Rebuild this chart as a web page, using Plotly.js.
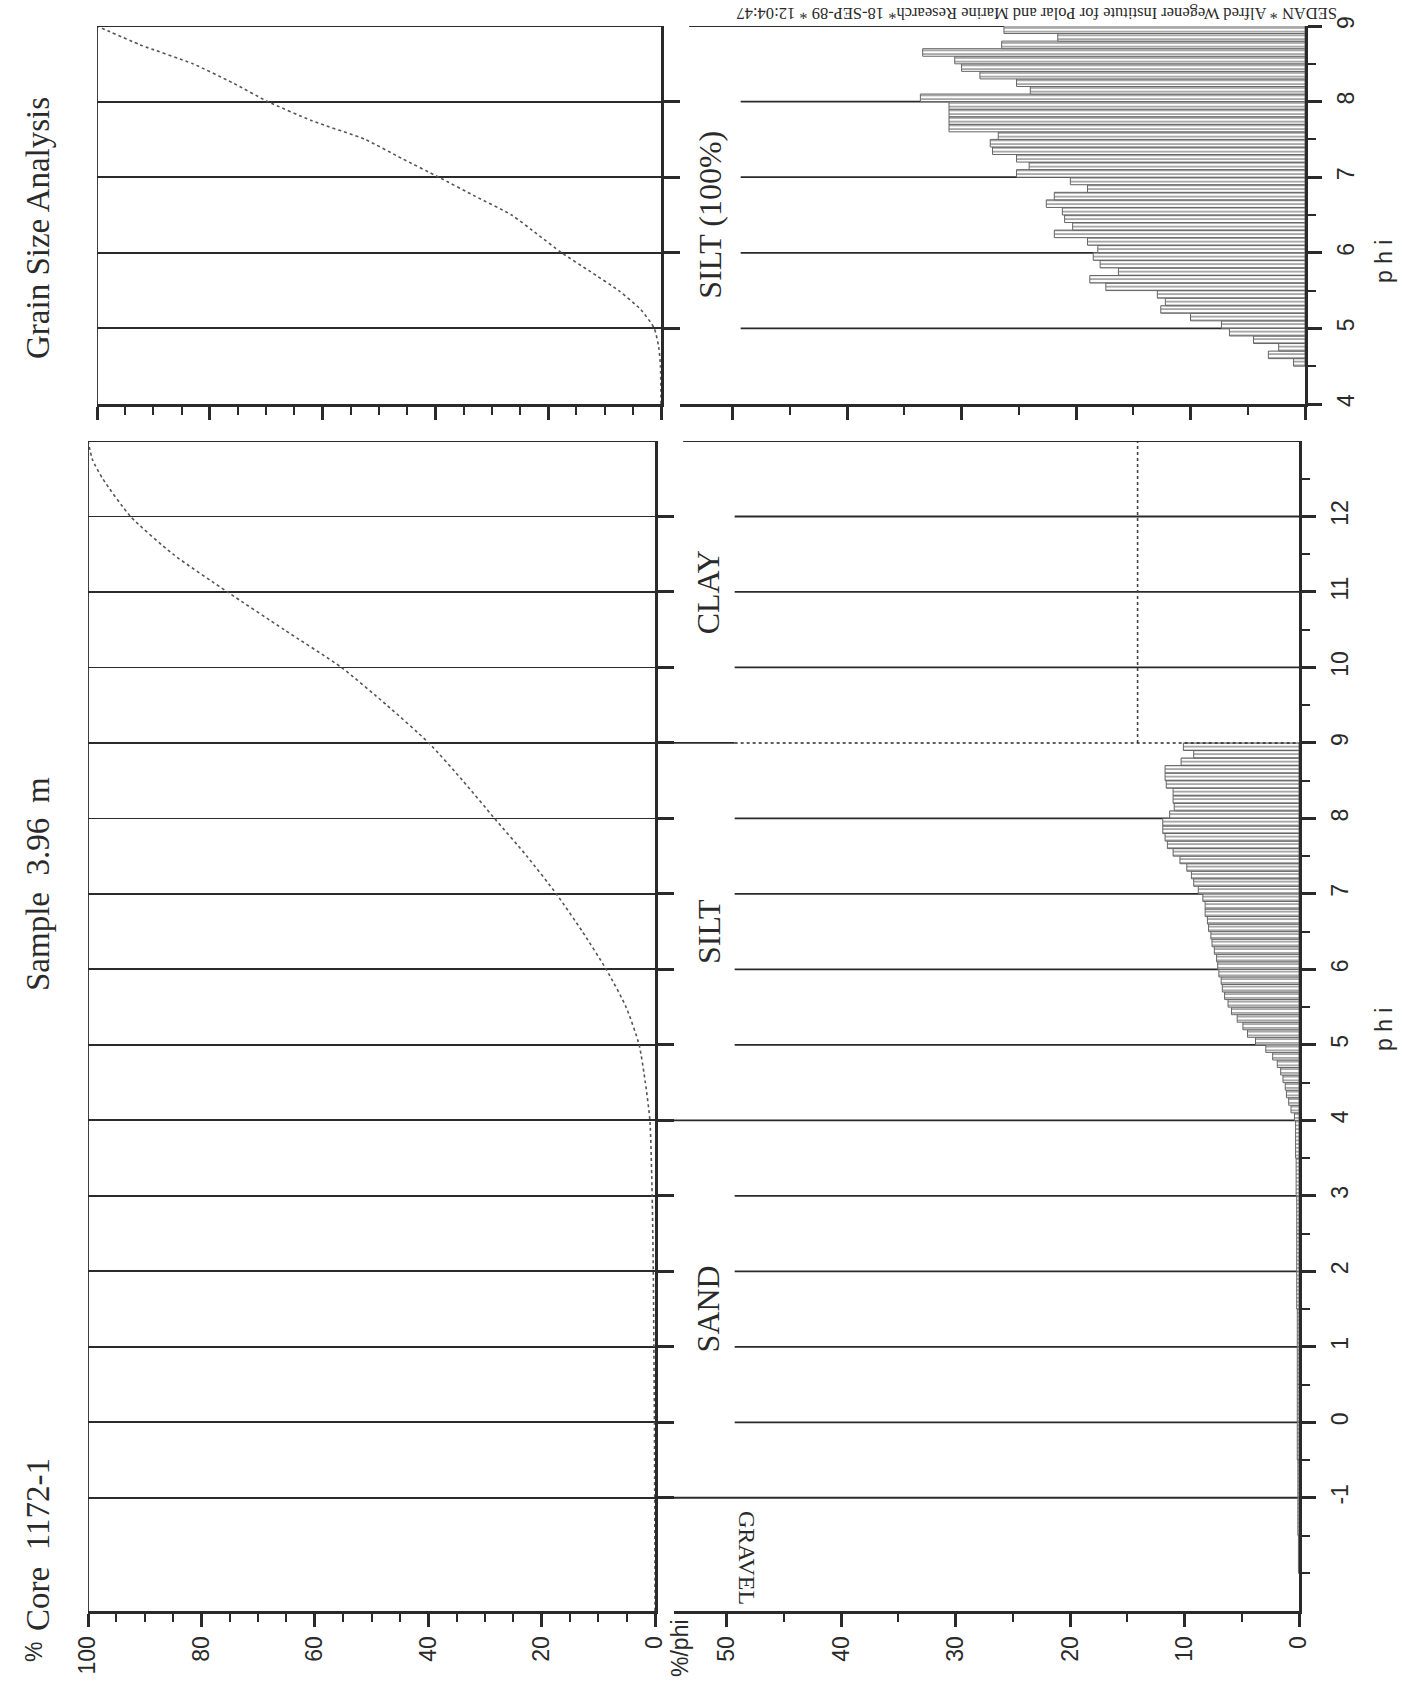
<!DOCTYPE html>
<html>
<head>
<meta charset="utf-8">
<script src="https://cdn.plot.ly/plotly-3.0.1.min.js"></script>
<style>
html,body{margin:0;padding:0;background:#fff;}
#chart{width:1411px;height:1683px;}
</style>
</head>
<body>
<div id="chart"></div>
<script>
// ---------------- data ----------------
// cumulative curve, whole sample (phi vs cumulative %)
const cumPhi = [-2.5, -2, -1, 0, 1, 2, 3, 4, 4.5, 5, 5.5, 6, 6.5, 7, 7.5, 8, 8.5, 9, 9.5, 10, 10.5, 11, 11.5, 12, 12.5, 12.75, 13];
const cumPct = [0, 0, 0.05, 0.1, 0.2, 0.3, 0.5, 0.9, 1.7, 2.8, 5.1, 8.6, 12.8, 17.4, 22.6, 28.3, 33.9, 39.9, 47.3, 55.3, 65.4, 75.4, 85.0, 92.5, 97.4, 99.2, 100];

// frequency (%/phi), sand fraction, 0.5 phi classes
const sandPhi = [-1.75, -1.25, -0.75, -0.25, 0.25, 0.75, 1.25, 1.75, 2.25, 2.75, 3.25, 3.75];
const sandVal = [0.05, 0.1, 0.1, 0.15, 0.15, 0.15, 0.15, 0.2, 0.2, 0.2, 0.25, 0.3];
const sandWidth = 0.5;

// frequency (%/phi), silt fraction, 0.1 phi classes (centres)
const siltPhi = [4.05, 4.15, 4.25, 4.35, 4.45, 4.55, 4.65, 4.75, 4.85, 4.95,
                 5.05, 5.15, 5.25, 5.35, 5.45, 5.55, 5.65, 5.75, 5.85, 5.95,
                 6.05, 6.15, 6.25, 6.35, 6.45, 6.55, 6.65, 6.75, 6.85, 6.95,
                 7.05, 7.15, 7.25, 7.35, 7.45, 7.55, 7.65, 7.75, 7.85, 7.95,
                 8.05, 8.15, 8.25, 8.35, 8.45, 8.55, 8.65, 8.75, 8.85, 8.95];
const siltVal = [0.4, 0.7, 0.9, 1.1, 1.2, 1.4, 1.6, 1.9, 2.3, 2.9,
                 3.8, 4.5, 4.9, 5.4, 5.9, 6.2, 6.5, 6.7, 6.8, 7.0,
                 7.1, 7.2, 7.4, 7.6, 7.7, 7.9, 8.0, 8.2, 8.2, 8.4,
                 8.8, 9.2, 9.4, 9.8, 10.4, 11.0, 11.5, 11.7, 11.9, 11.9,
                 11.3, 10.9, 11.0, 11.0, 11.6, 11.7, 11.7, 10.3, 9.2, 10.1];
const siltWidth = 0.1;

// clay: one class from 9 to 13 phi
const clayPhi = [9, 13];
const clayVal = 14.1;

// SILT (100%) panel
const s100Phi = [4.55, 4.65, 4.75, 4.85, 4.95,
                 5.05, 5.15, 5.25, 5.35, 5.45, 5.55, 5.65, 5.75, 5.85, 5.95,
                 6.05, 6.15, 6.25, 6.35, 6.45, 6.55, 6.65, 6.75, 6.85, 6.95,
                 7.05, 7.15, 7.25, 7.35, 7.45, 7.55, 7.65, 7.75, 7.85, 7.95,
                 8.05, 8.15, 8.25, 8.35, 8.45, 8.55, 8.65, 8.75, 8.85, 8.95];
const s100Val = [1.0, 3.2, 2.3, 4.5, 6.6,
                 7.3, 10.0, 12.6, 12.2, 12.9, 17.4, 18.8, 16.3, 17.9, 18.5,
                 18.1, 19.0, 21.9, 20.3, 21.0, 21.2, 22.6, 21.9, 19.0, 20.5,
                 25.2, 24.1, 25.2, 27.3, 27.5, 26.8, 31.1, 31.1, 31.1, 31.1,
                 33.6, 24.0, 25.2, 28.4, 30.0, 30.6, 33.4, 26.5, 21.6, 26.3];
const s100CumPhi = [4, 4.5, 4.75, 5, 5.25, 5.5, 5.75, 6, 6.25, 6.5, 6.75, 7, 7.25, 7.5, 7.75, 8, 8.25, 8.5, 8.75, 9];
const s100CumPct = [0, 0.1, 0.4, 1.2, 3.6, 7.5, 12.5, 17.6, 22.0, 26.5, 33.0, 39.4, 46.0, 52.5, 62.0, 69.7, 76.0, 83.0, 92.3, 100];

// ticks and labels
const phiTicks = [-1, 0, 1, 2, 3, 4, 5, 6, 7, 8, 9, 10, 11, 12];
const phiMinor = [-2, -1.5, -0.5, 0.5, 1.5, 2.5, 3.5, 4.5, 5.5, 6.5, 7.5, 8.5, 9.5, 10.5, 11.5, 12.5];
const s100PhiTicks = [4, 5, 6, 7, 8, 9];
const s100PhiMinor = [4.5, 5.5, 6.5, 7.5, 8.5];
const s100GridPhi = [5, 6, 7, 8];
const pctTicks = [0, 20, 40, 60, 80, 100];
const pctMinor = [5, 10, 15, 25, 30, 35, 45, 50, 55, 65, 70, 75, 85, 90, 95];
const freqTicks = [0, 10, 20, 30, 40, 50];
const freqMinor = [5, 15, 25, 35, 45];
const classNames = ['GRAVEL', 'SAND', 'SILT', 'CLAY'];
const classPhi = [-1.8, 1.5, 6.5, 11];
const classBounds = [-1, 4, 9];

const titleCore = 'Core  1172-1';
const titleSample = 'Sample  3.96';
const titleUnit = 'm';
const titleMain = 'Grain Size Analysis';
const footer = 'SEDAN * Alfred Wegener Institute for Polar and Marine Research* 18-SEP-89 * 12:04:47';

// ---------------- layout helpers ----------------
const W = 1411, H = 1683;
const px = v => v / W;
const py = v => 1 - v / H;
const INK = '#2a2a2a';
const numFont = {family: 'Liberation Sans, Arial, sans-serif', size: 23, color: INK};
const serif = 'Liberation Serif, Times New Roman, serif';
const FREQ_MAX = 54.6;      // left edge of frequency panels (%/phi)
const GRID_START = 49.3;    // where the phi grid lines start in frequency panels
const PHI_MIN = -2.5, PHI_MAX = 13;

const mainY = [py(1611), py(441)];
const smallY = [py(404), py(26)];

function xAxis(domain, range, anchor, ticks, minor, labels) {
  return {
    domain: domain, range: range, anchor: anchor, fixedrange: true,
    showline: true, linecolor: INK, linewidth: 3,
    ticks: 'outside', tickmode: 'array', tickvals: ticks, ticklen: 13, tickwidth: 3, tickcolor: INK,
    minor: {tickmode: 'array', tickvals: minor, ticks: 'outside', ticklen: 8, tickwidth: 2, tickcolor: INK, showgrid: false},
    showticklabels: labels, tickangle: -90, tickfont: numFont, ticklabelstandoff: 0,
    showgrid: false, zeroline: false
  };
}

const barMarker = {
  color: '#ffffff',
  line: {color: '#666666', width: 1},
  pattern: {shape: '-', fgcolor: '#6e6e6e', bgcolor: '#ffffff', size: 3.75, solidity: 0.3}
};
const dotLine = {color: '#555555', width: 1.6, dash: 'dot'};

const traces = [
  {type: 'scatter', mode: 'lines', x: cumPct, y: cumPhi, xaxis: 'x', yaxis: 'y',
   line: Object.assign({shape: 'spline', smoothing: 0.6}, dotLine), hoverinfo: 'skip'},
  {type: 'bar', orientation: 'h', x: sandVal, y: sandPhi, width: sandWidth, base: 0,
   xaxis: 'x2', yaxis: 'y2', marker: barMarker, hoverinfo: 'skip'},
  {type: 'bar', orientation: 'h', x: siltVal, y: siltPhi, width: siltWidth, base: 0,
   xaxis: 'x2', yaxis: 'y2', marker: barMarker, hoverinfo: 'skip'},
  {type: 'scatter', mode: 'lines', x: [clayVal, clayVal], y: clayPhi, xaxis: 'x2', yaxis: 'y2',
   line: {color: '#444444', width: 1.6, dash: 'dot'}, hoverinfo: 'skip'},
  {type: 'scatter', mode: 'lines', x: s100CumPct, y: s100CumPhi, xaxis: 'x3', yaxis: 'y3',
   line: Object.assign({shape: 'spline', smoothing: 0.6}, dotLine), hoverinfo: 'skip'},
  {type: 'bar', orientation: 'h', x: s100Val, y: s100Phi, width: siltWidth, base: 0,
   xaxis: 'x4', yaxis: 'y4', marker: barMarker, hoverinfo: 'skip'}
];

// frame lines and phi grid lines of frequency panels
const shapes = [];
function seg(xref, yref, x0, x1, y0, y1, width, dash, layer) {
  shapes.push({type: 'line', xref: xref, yref: yref, x0: x0, x1: x1, y0: y0, y1: y1,
               line: {color: INK, width: width, dash: dash || 'solid'}, layer: layer || 'above'});
}
// main cumulative frame
seg('x', 'y', 100, 100, PHI_MIN, PHI_MAX, 1.8);
seg('x', 'y', 100, 0, PHI_MAX, PHI_MAX, 1.8);
// small cumulative frame
seg('x3', 'y3', 100, 100, 4, 9, 1.8);
seg('x3', 'y3', 100, 0, 9, 9, 1.8);
// main frequency frame + grid
seg('x2', 'y2', FREQ_MAX - 0.8, 0, PHI_MAX, PHI_MAX, 1.8);
phiTicks.forEach(p => {
  if (p === clayPhi[0]) {
    seg('x2', 'y2', FREQ_MAX, GRID_START, p, p, 1.8, 'solid', 'below');
    seg('x2', 'y2', GRID_START, 0, p, p, 1.6, 'dot', 'above');
  } else if (classBounds.indexOf(p) >= 0) {
    seg('x2', 'y2', FREQ_MAX, 0, p, p, 1.8, 'solid', 'below');
  } else {
    seg('x2', 'y2', GRID_START, 0, p, p, 1.8, 'solid', 'below');
  }
});
// small frequency frame + grid
seg('x4', 'y4', FREQ_MAX - 0.8, 0, 9, 9, 1.8, 'solid', 'below');
s100GridPhi.forEach(p => seg('x4', 'y4', GRID_START, 0, p, p, 1.8, 'solid', 'below'));

// text
const annotations = [];
function note(text, x, y, angle, font, xref, yref) {
  annotations.push({text: text, x: x, y: y, xref: xref || 'paper', yref: yref || 'paper',
                    textangle: angle, showarrow: false, xanchor: 'center', yanchor: 'middle', font: font});
}
const titleFont = {family: serif, size: 33, color: INK};
note(titleCore, px(38), py(1545), -90, titleFont);
note(titleSample, px(38), py(905), -90, titleFont);
note(titleUnit, px(38), py(790), -90, titleFont);
note(titleMain, px(38), py(228), -90, titleFont);
note('%', px(34), py(1652), -90, numFont);
note('%/phi', px(680), py(1648), -90, numFont);
note('p h i', px(1384), py(1030), -90, numFont);
note('p h i', px(1384), py(262), -90, numFont);
const classFont = {family: serif, size: 32, color: INK};
classNames.forEach((c, i) => {
  const isGravel = c === 'GRAVEL';
  note(c, isGravel ? 48.2 : 51.6, classPhi[i], isGravel ? 90 : -90,
       isGravel ? {family: serif, size: 24, color: INK} : classFont, 'x2', 'y2');
});
note('SILT (100%)', 52.0, 6.5, -90, classFont, 'x4', 'y4');
annotations.push({text: footer, x: px(1037), y: 1, xref: 'paper', yref: 'paper', yshift: -2,
                  textangle: 180, showarrow: false, xanchor: 'center', yanchor: 'top',
                  font: {family: serif, size: 16.5, color: INK}});

const layout = {
  width: W, height: H,
  margin: {l: 0, r: 0, t: 0, b: 0, pad: 0},
  paper_bgcolor: '#ffffff', plot_bgcolor: '#ffffff',
  showlegend: false, barmode: 'overlay',
  xaxis: xAxis([px(88), px(655)], [100, 0], 'y', pctTicks, pctMinor, true),
  yaxis: {
    domain: mainY, range: [PHI_MIN, PHI_MAX], anchor: 'x', side: 'right', fixedrange: true,
    showline: true, linecolor: INK, linewidth: 3,
    ticks: 'outside', tickmode: 'array', tickvals: phiTicks, ticklen: 16, tickwidth: 3, tickcolor: INK,
    showticklabels: false, showgrid: true, gridcolor: INK, gridwidth: 1.8, zeroline: false
  },
  xaxis2: xAxis([px(674), px(1299)], [FREQ_MAX, 0], 'y2', freqTicks, freqMinor, true),
  yaxis2: {
    domain: mainY, range: [PHI_MIN, PHI_MAX], anchor: 'x2', side: 'right', fixedrange: true,
    showline: true, linecolor: INK, linewidth: 3,
    ticks: 'outside', tickmode: 'array', tickvals: phiTicks, ticktext: phiTicks.map(String),
    ticklen: 14, tickwidth: 3, tickcolor: INK,
    minor: {tickmode: 'array', tickvals: phiMinor, ticks: 'outside', ticklen: 8, tickwidth: 2, tickcolor: INK, showgrid: false},
    showticklabels: true, tickangle: -90, tickfont: numFont, ticklabelstandoff: 4,
    showgrid: false, zeroline: false
  },
  xaxis3: xAxis([px(97), px(661)], [100, 0], 'y3', pctTicks, pctMinor, false),
  yaxis3: {
    domain: smallY, range: [4, 9], anchor: 'x3', side: 'right', fixedrange: true,
    showline: true, linecolor: INK, linewidth: 3,
    ticks: 'outside', tickmode: 'array', tickvals: s100GridPhi, ticklen: 16, tickwidth: 3, tickcolor: INK,
    showticklabels: false, showgrid: true, gridcolor: INK, gridwidth: 1.8, zeroline: false
  },
  xaxis4: xAxis([px(680), px(1305)], [FREQ_MAX, 0], 'y4', freqTicks, freqMinor, false),
  yaxis4: {
    domain: smallY, range: [4, 9], anchor: 'x4', side: 'right', fixedrange: true,
    showline: true, linecolor: INK, linewidth: 3,
    ticks: 'outside', tickmode: 'array', tickvals: s100PhiTicks, ticklen: 14, tickwidth: 3, tickcolor: INK,
    minor: {tickmode: 'array', tickvals: s100PhiMinor, ticks: 'outside', ticklen: 8, tickwidth: 2, tickcolor: INK, showgrid: false},
    showticklabels: true, tickangle: -90, tickfont: numFont, ticklabelstandoff: 4,
    showgrid: false, zeroline: false
  },
  shapes: shapes,
  annotations: annotations
};

Plotly.newPlot('chart', traces, layout, {staticPlot: true, displayModeBar: false});
</script>
</body>
</html>
